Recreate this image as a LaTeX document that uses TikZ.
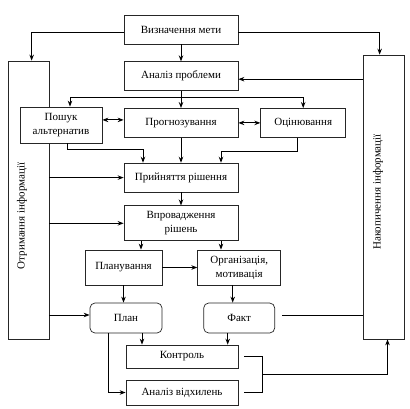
\documentclass[tikz,border=0pt]{standalone}
\usepackage{fontspec}
\setmainfont{Liberation Serif}
\usetikzlibrary{arrows.meta,positioning,calc}
\tikzset{>={Stealth[length=6pt,width=4.5pt]}}

\begin{document}
\begin{tikzpicture}[x=1pt, y=-1pt,
    block/.style={draw=black!85, fill=white, line width=0.7pt, minimum width=114pt, minimum height=29pt, inner sep=2pt, align=center, font=\rmfamily\fontsize{11}{14}\selectfont},
    result/.style={block, rounded corners=5pt, minimum width=72pt, minimum height=30pt},
    side/.style={draw=black!85, line width=0.7pt, minimum width=41pt, inner sep=0pt},
    vlabel/.style={rotate=90, font=\rmfamily\fontsize{11}{14}\selectfont},
    link/.style={line width=1pt},
    node distance=17pt and 22pt
  ]
    \useasboundingbox (0,0) rectangle (410,408);
    % side columns
    \node[side, minimum height=278pt] (recv) at (28.5,200) {};
    \node[vlabel] (recvtext) at (22,216) {Отримання інформації};
    \node[side, minimum height=284pt] (store) at (383.5,197) {};
    \node[vlabel] (storetext) at (378,192) {Накопичення інформації};
    % main blocks
    \node[block] (goal) at (181,29.5) {Визначення мети};
    \node[block, below=of goal] (analysis) {Аналіз проблеми};
    \node[block, below=of analysis] (forecast) {Прогнозування};
    \node[block, minimum width=82pt, minimum height=36pt] (search) at (61,125) {Пошук\\альтернатив};
    \node[block, minimum width=85pt, right=of forecast] (evaluate) {Оцінювання};
    \node[block, below=25pt of forecast] (decision) {Прийняття рішення};
    \node[block, minimum height=35pt, below=13pt of decision] (impl) {Впровадження\\рішень};
    \node[block, minimum width=77pt, minimum height=35pt] (planning) at (123.5,267.5) {Планування};
    \node[block, minimum width=83pt, minimum height=35pt, right=35pt of planning] (org) {Організація,\\мотивація};
    \node[result] (plan) at (126,318) {План};
    \node[result, minimum width=71pt, right=41pt of plan] (fact) {Факт};
    \node[block, minimum width=112pt, minimum height=23pt] (control) at (182,356.5) {Контроль};
    \node[block, minimum width=112pt, minimum height=25pt] (deviation) at (182,392.5) {Аналіз відхилень};
    % connectors
    \draw[link,->] (goal) -- (analysis);
    \draw[link,->] ([yshift=-2.5pt]goal.west) -| ([xshift=24pt]recv.north west);
    \draw[link,->] ([yshift=-2.5pt]goal.east) -| ([xshift=17pt]store.north west);
    \draw[link,->] ([yshift=-3pt]analysis.east -| store.west) -- ([yshift=-3pt]analysis.east);
    \draw[link,->] (analysis) -- (forecast);
    \coordinate[below=6pt of analysis.south] (split);
    \draw[link,->] (split) -| ([xshift=9pt]search.north);
    \draw[link,->] (split) -| (evaluate.north);
    \draw[link,<->] ([yshift=3pt]forecast.west -| search.east) -- ([yshift=3pt]forecast.west);
    \draw[link,<->] (forecast) -- (evaluate);
    \draw[link,->] ([xshift=6pt]search.south) -- ++(0,6) -| ([xshift=-38pt]decision.north);
    \draw[link,->] (forecast) -- (decision);
    \draw[link,->] ([xshift=-5.5pt]evaluate.south) -- ++(0,14) -| ([xshift=40pt]decision.north);
    \draw[link,->] (recv.east |- decision.west) -- (decision.west);
    \draw[link,->] (recv.east |- impl.west) -- (impl.west);
    \draw[link,->] (decision) -- (impl);
    \draw[link,->] ([xshift=-40pt]impl.south) -- ([xshift=-40pt]impl.south |- planning.north);
    \draw[link,->] ([xshift=40pt]impl.south) -- ([xshift=40pt]impl.south |- org.north);
    \draw[link,->] (planning) -- (org);
    \draw[link,->] (planning.south) -- (planning.south |- plan.north);
    \draw[link,->] ([xshift=-6.5pt]org.south) -- ([xshift=-6.5pt]org.south |- fact.north);
    \draw[link,->] ([yshift=3pt]recv.east |- plan.west) -- ([yshift=3pt]plan.west);
    \draw[link] ([xshift=7pt,yshift=3pt]fact.east) -- ([yshift=3pt]fact.east -| store.west);
    \draw[link,->] ([xshift=16pt]plan.south) -- ([xshift=16pt]plan.south |- control.north);
    \draw[link,->] ([xshift=-18pt]plan.south) |- (deviation.west);
    \draw[link,->] ([xshift=-11.5pt]fact.south) -- ([xshift=-11.5pt]fact.south |- control.north);
    \draw[link] ([xshift=6pt]control.east) -- ++(18,0) |- ([xshift=6pt]deviation.east);
    \coordinate (merge) at ($(control.east)!0.5!(deviation.east)+(24,0)$);
    \draw[link,->] (merge) -| ([xshift=4pt]store.south);
  \end{tikzpicture}
\end{document}
